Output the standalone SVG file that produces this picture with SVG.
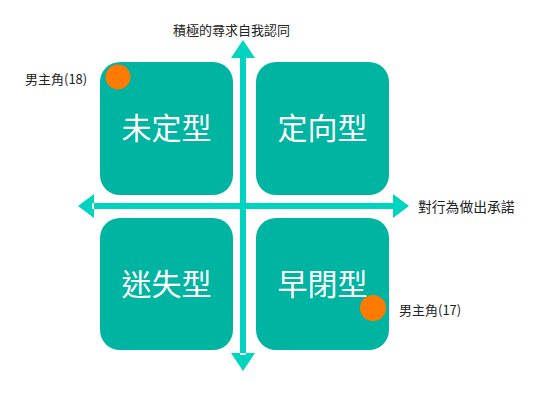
<svg xmlns="http://www.w3.org/2000/svg" width="547" height="407" viewBox="0 0 547 407">
<style>
.box{fill:#00B4A2}
.bt{fill:#fff;font-family:"Noto Sans CJK TC","Noto Sans CJK SC",sans-serif;font-size:30px;text-anchor:middle}
.lb{fill:#222;font-family:"Noto Sans CJK TC","Noto Sans CJK SC",sans-serif;font-size:13px}
.arr{fill:#00D3BF}
.dot{fill:#FF7A00}
</style>
<rect width="547" height="407" fill="#fff"/>
<g id="connectors">
<path class="arr" d="M240,55 h6 v300 h-6 z M231,58 L243,40 L255,58 z M231,353 L243,371 L255,353 z"/>
<path class="arr" d="M92,203 h302 v6 h-302 z M94,194 L78,206 L94,218 z M393,194 L409,206 L393,218 z"/>
</g>
<g id="n-weiding">
<rect class="box" x="100" y="62" width="133" height="133" rx="20"/>
<text class="bt" x="166.5" y="139">未定型</text>
</g>
<g id="n-dingxiang">
<rect class="box" x="256" y="62" width="133" height="133" rx="20"/>
<text class="bt" x="322.5" y="139">定向型</text>
</g>
<g id="n-misi">
<rect class="box" x="100" y="218" width="133" height="132" rx="20"/>
<text class="bt" x="166.5" y="295">迷失型</text>
</g>
<g id="n-zaobi">
<rect class="box" x="256" y="218" width="133" height="132" rx="20"/>
<text class="bt" x="322.5" y="295">早閉型</text>
</g>
<g id="n-m18">
<circle class="dot" cx="118" cy="77" r="12.5"/>
<text class="lb" x="25" y="84">男主角(18)</text>
</g>
<g id="n-m17">
<circle class="dot" cx="373" cy="308" r="13"/>
<text class="lb" x="399" y="315">男主角(17)</text>
</g>
<g id="n-top">
<text class="lb" x="173" y="35">積極的尋求自我認同</text>
</g>
<g id="n-right">
<text class="lb" x="418" y="212" style="font-size:13.8px">對行為做出承諾</text>
</g>
</svg>
